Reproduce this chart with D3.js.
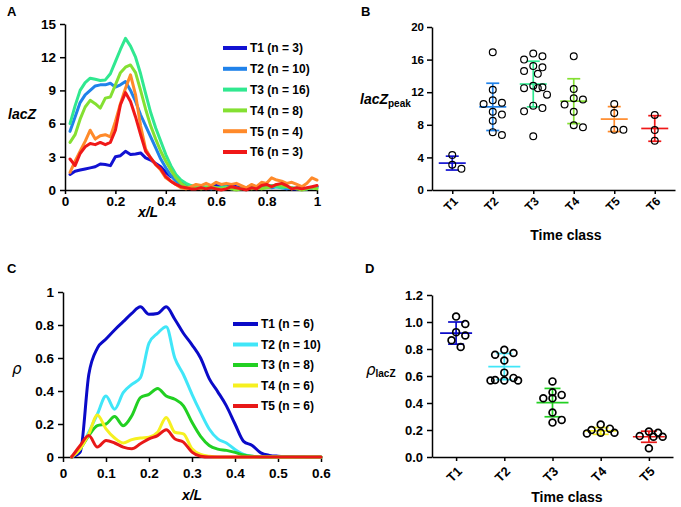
<!DOCTYPE html>
<html>
<head>
<meta charset="utf-8">
<script src="https://cdn.jsdelivr.net/npm/d3@7"></script>
<style>
  body { margin: 0; background: #fff; }
</style>
</head>
<body>
<svg id="fig" width="681" height="507"></svg>
<script>
// ---------- data ----------
// Panel A: lacZ profiles sampled every 0.02 of x/L
const xGridA = d3.range(1, 51).map((i) => +(i * 0.02).toFixed(2));
const lacZT1 = [1.4,1.7,1.8,1.9,2.0,2.1,2.35,2.3,2.2,3.0,3.1,3.5,3.2,3.25,3.35,2.9,2.7,2.4,2.1,1.6,1.2,1.25,0.75,0.4,0.3,
  0.2,0.3,0.2,0.3,0.4,0.3,0.3,0.4,0.3,0.2,0.2,0.4,0.3,0.3,0.4,0.3,0.4,0.3,0.2,0.1,0.1,0.2,0.1,0.2,0.3];
const lacZT2 = [5.3,6.6,7.9,8.6,9.0,9.4,9.5,9.5,9.65,9.3,9.5,9.8,9.0,8.0,6.8,5.8,4.8,3.8,2.8,2.0,1.3,0.8,0.5,0.3,0.2,
  0.2,0.3,0.2,0.1,0.2,0.3,0.2,0.1,0.2,0.1,0.2,0.3,0.2,0.4,0.3,0.2,0.3,0.2,0.1,0.2,0.1,0.2,0.1,0.2,0.3];
const lacZT3 = [6.0,7.6,9.0,9.7,10.1,10.0,9.9,9.95,10.5,11.6,12.7,13.7,13.0,12.0,10.5,8.7,7.0,5.6,4.4,3.2,2.2,1.4,0.9,0.6,0.4,
  0.3,0.2,0.3,0.2,0.1,0.2,0.3,0.2,0.1,0.2,0.1,0.2,0.3,0.2,0.3,0.4,0.3,0.2,0.3,0.1,0.2,0.1,0.1,0.2,0.2];
const lacZT4 = [4.3,5.0,6.4,7.5,8.1,7.8,7.4,8.3,8.4,9.5,10.6,11.1,11.3,10.6,9.0,7.3,5.8,4.6,3.5,2.6,1.8,1.1,0.6,0.3,0.2,
  0.2,0.1,0.2,0.3,0.2,0.1,0.2,0.1,0.0,0.1,0.2,0.1,0.2,0.1,0.2,0.3,0.5,0.4,0.3,0.2,0.1,0.0,0.1,0.2,0.1];
const lacZT5 = [1.6,2.6,3.5,4.4,5.4,4.6,4.9,5.0,4.8,6.2,7.8,9.2,10.4,8.6,5.8,3.7,2.9,2.3,1.8,1.1,0.8,0.5,0.2,0.1,0.3,
  0.5,0.4,0.6,0.4,0.7,0.5,0.6,0.5,0.6,0.4,0.2,0.5,0.3,0.7,0.6,1.1,0.9,0.8,0.6,0.7,0.5,0.3,0.6,1.1,0.9];
const lacZT6 = [2.8,2.2,3.3,3.9,4.2,4.1,4.3,4.1,4.3,5.4,7.7,8.8,8.0,6.6,5.0,3.5,2.9,2.3,1.9,1.2,0.8,0.5,0.3,0.2,0.1,
  0.1,0.2,0.1,0.2,0.1,0.0,0.1,0.3,0.2,0.1,0.0,0.2,0.1,0.4,0.5,0.3,0.5,0.6,0.4,0.1,0.2,0.1,0.2,0.3,0.4];
const legendA = ["T1 (n = 3)", "T2 (n = 10)", "T3 (n = 16)", "T4 (n = 8)", "T5 (n = 4)", "T6 (n = 3)"];
const colorsA = ["#1212d2", "#2082ea", "#30e890", "#84e032", "#ff8a2a", "#f01818"];

// Panel B: peak lacZ per embryo
const catsB = ["T1", "T2", "T3", "T4", "T5", "T6"];
const peakDots = [
  [4.3, 3.1, 2.6],
  [16.9, 12.3, 11.0, 10.7, 10.55, 9.6, 9.25, 8.5, 7.1, 6.75],
  [16.75, 16.4, 16.0, 15.2, 15.05, 14.6, 14.25, 12.8, 12.6, 12.5, 12.5, 11.7, 10.35, 10.05, 9.65, 6.6],
  [16.4, 12.4, 11.25, 11.1, 10.5, 9.6, 7.95, 7.7],
  [10.55, 9.45, 7.4, 7.4],
  [9.2, 7.35, 6.05]
];
const peakMean = [3.3, 10.2, 13.0, 10.9, 8.7, 7.55];
const peakSD = [0.85, 2.9, 2.8, 2.75, 1.53, 1.57];

// Panel C: rho profiles sampled every 0.02 of x/L
const xGridC = d3.range(1, 31).map((i) => +(i * 0.02).toFixed(2));
const rhoT1 = [0,0.03,0.5,0.66,0.715,0.77,0.82,0.87,0.91,0.865,0.87,0.91,0.835,0.75,0.68,0.6,0.475,0.395,0.31,0.2,
  0.095,0.07,0.025,0.01,0.005,0.003,0.002,0.001,0,0];
const rhoT2 = [0,0.05,0.15,0.26,0.37,0.29,0.39,0.44,0.48,0.69,0.75,0.79,0.6,0.5,0.38,0.27,0.17,0.11,0.085,0.045,
  0.015,0.005,0,0,0,0,0,0,0,0];
const rhoT3 = [0,0.05,0.13,0.19,0.2,0.245,0.19,0.25,0.36,0.38,0.415,0.37,0.35,0.31,0.21,0.125,0.07,0.048,0.04,0.028,
  0.012,0.004,0,0,0,0,0,0,0,0];
const rhoT4 = [0,0.05,0.14,0.255,0.17,0.115,0.085,0.105,0.115,0.12,0.15,0.24,0.15,0.14,0.05,0.015,0.005,0,0,0,
  0,0,0,0,0,0,0,0,0,0];
const rhoT5 = [0,0.07,0.13,0.06,0.1,0.085,0.06,0.05,0.08,0.11,0.13,0.165,0.11,0.09,0.03,0.005,0,0,0,0,
  0,0,0,0,0,0,0,0,0,0];
const legendC = ["T1 (n = 6)", "T2 (n = 10)", "T3 (n = 8)", "T4 (n = 6)", "T5 (n = 6)"];
const colorsC = ["#0a0ac8", "#40e6f8", "#22d022", "#f6f020", "#e81818"];

// Panel D: rho_lacZ per embryo
const catsD = ["T1", "T2", "T3", "T4", "T5"];
const rhoDots = [
  [1.04, 0.985, 0.925, 0.9, 0.865, 0.815],
  [0.795, 0.77, 0.757, 0.715, 0.625, 0.586, 0.567, 0.567, 0.567, 0.57],
  [0.56, 0.48, 0.46, 0.435, 0.435, 0.33, 0.275, 0.255],
  [0.24, 0.21, 0.2, 0.18, 0.18, 0.175],
  [0.188, 0.18, 0.155, 0.15, 0.15, 0.065]
];
const rhoMean = [0.918, 0.67, 0.403, 0.193, 0.15];
const rhoSD = [0.082, 0.097, 0.105, 0.025, 0.041];

// ---------- drawing ----------
const FONT = '"Liberation Sans", Arial, sans-serif';
const svg = d3.select("#fig").attr("font-family", FONT);

function styleAxis(g, size) {
  g.attr("font-family", FONT).attr("font-size", size).attr("font-weight", "bold");
  g.selectAll("path, line").attr("stroke", "#000").attr("stroke-width", 1.5);
  g.selectAll("text").attr("fill", "#000");
}

function panelLetter(txt, x, y) {
  svg.append("text").attr("x", x).attr("y", y).attr("font-size", 13).attr("font-weight", "bold").text(txt);
}

function lineLegend(labels, colors, x0, y0, dy, len) {
  labels.forEach((lab, i) => {
    const y = y0 + i * dy;
    svg.append("line").attr("x1", x0).attr("x2", x0 + len).attr("y1", y).attr("y2", y)
      .attr("stroke", colors[i]).attr("stroke-width", 4);
    svg.append("text").attr("x", x0 + len + 3).attr("y", y).attr("dy", "0.36em")
      .attr("font-size", 12).attr("font-weight", "bold").text(lab);
  });
}

// Prism-like scatter: push dots sideways when they crowd, within a bounded width
function swarm(vals, y, r) {
  const placed = [];
  const step = r * 1.35;
  const minDist = 2 * r + 2;
  const offsets = [0];
  for (let k = 1; k <= 3; k++) offsets.push(k * step, -k * step);
  const clearance = (dx, py) => d3.min(placed, (p) => Math.hypot(p.dx - dx, p.py - py)) ?? Infinity;
  return vals.slice().sort((a, b) => b - a).map((v) => {
    const py = y(v);
    let dx = offsets.find((o) => clearance(o, py) >= minDist);
    if (dx === undefined) dx = d3.greatest(offsets, (o) => clearance(o, py));
    placed.push({dx, py});
    return {v, dx};
  });
}

function scatterPanel({cats, dots, mean, sd, colors, x, y, r, sw, meanHalf, capHalf}) {
  const g = svg.append("g");
  cats.forEach((c, i) => {
    const cx = x(c);
    const lo = y(mean[i] - sd[i]), hi = y(mean[i] + sd[i]), m = y(mean[i]);
    const eb = g.append("g").attr("stroke", colors[i]).attr("stroke-width", 1.7);
    eb.append("line").attr("x1", cx).attr("x2", cx).attr("y1", lo).attr("y2", hi);
    eb.append("line").attr("x1", cx - capHalf).attr("x2", cx + capHalf).attr("y1", lo).attr("y2", lo);
    eb.append("line").attr("x1", cx - capHalf).attr("x2", cx + capHalf).attr("y1", hi).attr("y2", hi);
    eb.append("line").attr("x1", cx - meanHalf).attr("x2", cx + meanHalf).attr("y1", m).attr("y2", m);
    g.append("g").selectAll("circle").data(swarm(dots[i], y, r)).join("circle")
      .attr("cx", (d) => cx + d.dx).attr("cy", (d) => y(d.v)).attr("r", r)
      .attr("fill", "none").attr("stroke", "#000").attr("stroke-width", sw);
  });
}

function rotatedCatAxis(x, yPos, size, off) {
  const ax = svg.append("g").attr("transform", `translate(0,${yPos})`)
    .call(d3.axisBottom(x).tickSize(4).tickSizeOuter(0));
  styleAxis(ax, size);
  ax.selectAll(".tick text").attr("y", 0).attr("dy", "0.35em").attr("text-anchor", "end")
    .attr("transform", `translate(3,${off}) rotate(-45)`);
  return ax;
}

// ----- Panel A -----
const xA = d3.scaleLinear([0, 1], [65, 317]);
const yA = d3.scaleLinear([0, 15], [190, 24]);
const axAx = svg.append("g").attr("transform", "translate(0,190)")
  .call(d3.axisBottom(xA).tickValues([0, 0.2, 0.4, 0.6, 0.8, 1]).tickFormat(d3.format("~g"))
    .tickSize(4).tickPadding(2).tickSizeOuter(0));
styleAxis(axAx, 13.5);
const axAy = svg.append("g").attr("transform", "translate(65,0)")
  .call(d3.axisLeft(yA).tickValues([0, 3, 6, 9, 12, 15]).tickSize(5).tickPadding(4).tickSizeOuter(0));
styleAxis(axAy, 13.5);

const lineA = d3.line().x((d, i) => xA(xGridA[i])).y((d) => yA(d));
[lacZT1, lacZT2, lacZT3, lacZT4, lacZT5, lacZT6].forEach((s, i) => {
  svg.append("path").attr("d", lineA(s)).attr("fill", "none").attr("stroke", colorsA[i])
    .attr("stroke-width", 3).attr("stroke-linejoin", "round").attr("stroke-linecap", "round");
});
lineLegend(legendA, colorsA, 223, 48, 20.8, 24);
panelLetter("A", 7, 16);
svg.append("text").attr("x", 8).attr("y", 119).attr("font-size", 14).attr("font-weight", "bold")
  .attr("font-style", "italic").text("lacZ");
svg.append("text").attr("x", 148).attr("y", 217).attr("text-anchor", "middle").attr("font-size", 14)
  .attr("font-weight", "bold").attr("font-style", "italic").text("x/L");

// ----- Panel B -----
const xB = d3.scalePoint(catsB, [432, 675]).padding(0.5);
const yB = d3.scaleLinear([0, 20], [190, 27]);
rotatedCatAxis(xB, 190, 12, 9);
const axBy = svg.append("g").attr("transform", "translate(432,0)")
  .call(d3.axisLeft(yB).tickValues([0, 4, 8, 12, 16, 20]).tickSize(5).tickPadding(3).tickSizeOuter(0));
styleAxis(axBy, 11.5);
scatterPanel({cats: catsB, dots: peakDots, mean: peakMean, sd: peakSD, colors: colorsA,
  x: xB, y: yB, r: 3.4, sw: 1.2, meanHalf: 13.5, capHalf: 6.5});
panelLetter("B", 361, 16);
const labB = svg.append("text").attr("x", 360).attr("y", 104).attr("font-weight", "bold");
labB.append("tspan").attr("font-size", 14).attr("font-style", "italic").text("lacZ");
labB.append("tspan").attr("font-size", 10).attr("dy", 3).text("peak");
svg.append("text").attr("x", 566).attr("y", 240).attr("text-anchor", "middle").attr("font-size", 14)
  .attr("font-weight", "bold").text("Time class");

// ----- Panel C -----
const xC = d3.scaleLinear([0, 0.6], [63, 321]);
const yC = d3.scaleLinear([0, 1], [457, 292]);
const axCx = svg.append("g").attr("transform", "translate(0,457)")
  .call(d3.axisBottom(xC).tickValues([0, 0.1, 0.2, 0.3, 0.4, 0.5, 0.6]).tickFormat(d3.format("~g"))
    .tickSize(5).tickPadding(6).tickSizeOuter(0));
styleAxis(axCx, 13.5);
const axCy = svg.append("g").attr("transform", "translate(63,0)")
  .call(d3.axisLeft(yC).tickValues([0, 0.2, 0.4, 0.6, 0.8, 1]).tickFormat(d3.format("~g"))
    .tickSize(5).tickPadding(4).tickSizeOuter(0));
styleAxis(axCy, 13.5);

const lineC = d3.line().x((d, i) => xC(xGridC[i])).y((d) => yC(d)).curve(d3.curveMonotoneX);
[rhoT1, rhoT2, rhoT3, rhoT4, rhoT5].forEach((s, i) => {
  svg.append("path").attr("d", lineC(s)).attr("fill", "none").attr("stroke", colorsC[i])
    .attr("stroke-width", 3).attr("stroke-linejoin", "round").attr("stroke-linecap", "round");
});
lineLegend(legendC, colorsC, 233, 324, 20.5, 25);
panelLetter("C", 7, 273);
svg.append("text").attr("x", 12).attr("y", 374).attr("font-size", 15).attr("font-style", "italic")
  .attr("font-family", '"DejaVu Sans", sans-serif').text("ρ");
svg.append("text").attr("x", 192).attr("y", 500).attr("text-anchor", "middle").attr("font-size", 14)
  .attr("font-weight", "bold").attr("font-style", "italic").text("x/L");

// ----- Panel D -----
const xD = d3.scalePoint(catsD, [432, 673]).padding(0.5);
const yD = d3.scaleLinear([0, 1.2], [457, 295]);
rotatedCatAxis(xD, 457, 13, 12);
const axDy = svg.append("g").attr("transform", "translate(432,0)")
  .call(d3.axisLeft(yD).tickValues([0, 0.2, 0.4, 0.6, 0.8, 1.0, 1.2]).tickFormat(d3.format(".1f"))
    .tickSize(5).tickPadding(4).tickSizeOuter(0));
styleAxis(axDy, 13);
scatterPanel({cats: catsD, dots: rhoDots, mean: rhoMean, sd: rhoSD, colors: colorsC,
  x: xD, y: yD, r: 3.4, sw: 1.7, meanHalf: 16, capHalf: 8});
panelLetter("D", 365, 273);
const labD = svg.append("text").attr("x", 366).attr("y", 375);
labD.append("tspan").attr("font-size", 15).attr("font-style", "italic")
  .attr("font-family", '"DejaVu Sans", sans-serif').text("ρ");
labD.append("tspan").attr("font-size", 10).attr("font-weight", "bold").attr("dy", 2).text("lacZ");
svg.append("text").attr("x", 567).attr("y", 502).attr("text-anchor", "middle").attr("font-size", 14)
  .attr("font-weight", "bold").text("Time class");
</script>
</body>
</html>
